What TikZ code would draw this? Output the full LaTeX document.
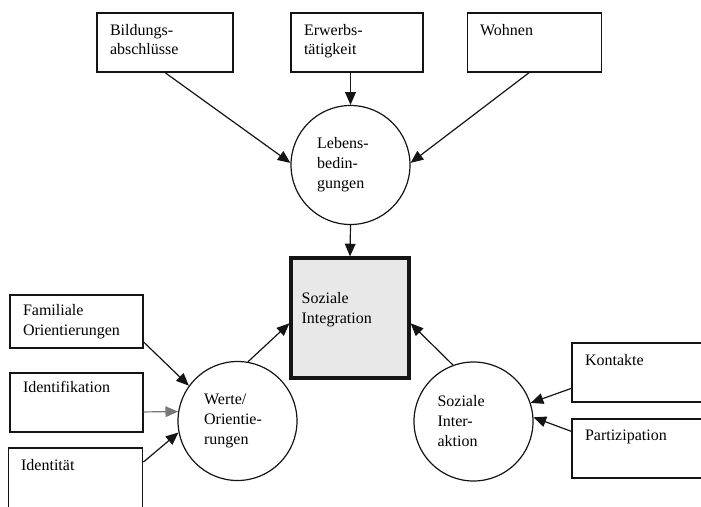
\documentclass[tikz,border=0pt]{standalone}
\usepackage{fontspec}
\setmainfont{Liberation Serif}
\usetikzlibrary{arrows.meta}
\definecolor{LineCol}{RGB}{20,20,20}
\definecolor{SqFill}{RGB}{232,232,232}
\definecolor{FadeCol}{RGB}{120,120,120}
\tikzset{
  sibox/.style={rectangle, draw=LineCol, line width=0.9pt, minimum width=101pt, minimum height=44.25pt, inner sep=0pt},
  silab/.style={font=\fontsize{12}{14.5}\selectfont, align=left, inner sep=0pt, anchor=north west, xshift=10pt, yshift=-8.5pt},
  sicirc/.style={circle, draw=LineCol, line width=0.9pt, minimum size=89.25pt, inner sep=0pt, align=left, font=\fontsize{12}{15}\selectfont},
  sisq/.style={rectangle, draw=LineCol, line width=2.4pt, fill=SqFill, minimum width=88.5pt, minimum height=90pt},
  siarr/.style={-{Triangle[length=9.5pt,width=8pt]}, line width=0.9pt, draw=LineCol}
}
\begin{document}
\begin{tikzpicture}[x=0.75pt,y=-0.75pt]
  \path[use as bounding box, clip] (0,0) rectangle (701,507);
  % obere Kaesten
  \node[sibox, minimum width=102pt, label={[silab]north west:{Bildungs-\\abschlüsse}}] (bild) at (165,42.5) {};
  \node[sibox, minimum width=99pt, label={[silab]north west:{Erwerbs-\\tätigkeit}}] (erw) at (357,42.5) {};
  \node[sibox, label={[silab]north west:Wohnen}] (wohn) at (534.5,42.5) {};
  % linke Kaesten
  \node[sibox, minimum width=99.75pt, minimum height=39.75pt, label={[silab, yshift=1pt]north west:{Familiale\\Orientierungen}}] (fam) at (76.5,321.5) {};
  \node[sibox, minimum width=99.75pt, label={[silab, yshift=2pt]north west:Identifikation}] (idf) at (76.5,402.5) {};
  \node[sibox, minimum height=46.5pt, label={[silab]north west:Identität}] (idt) at (75.5,479) {};
  % rechte Kaesten
  \node[sibox, minimum width=102pt, label={[silab]north west:Kontakte}] (kon) at (640,372.5) {};
  \node[sibox, minimum width=102pt, label={[silab]north west:Partizipation}] (par) at (640,448.5) {};
  % Kreise und Mitte
  \node[sicirc, text width=50pt] (leb) at (350.5,165) {Lebens-\\bedin-\\gungen};
  \node[sicirc, text width=50pt] (werte) at (237.5,421) {Werte/\\Orientie-\\rungen};
  \node[sicirc, text width=54pt] (soz) at (473.5,421.5) {Soziale\\Inter-\\aktion};
  \node[sisq, label={[anchor=west, inner sep=0pt, xshift=9pt, yshift=6pt, align=left, font=\fontsize{12}{15}\selectfont]west:{Soziale\\Integration}}] (sq) at (350,318) {};
  % Pfeile
  \draw[siarr] (bild.south) -- (leb.178);
  \draw[siarr] (erw.south -| leb.north) -- (leb.north);
  \draw[siarr] (wohn.-100) -- (leb.2);
  \draw[siarr] (leb.south) -- (sq.north);
  \draw[siarr] (werte.80) -- (sq.185);
  \draw[siarr] (soz.110) -- (sq.355);
  \draw[siarr] (fam.-17) -- (werte.144);
  \draw[siarr, draw=FadeCol] (idf.-8) -- (werte.171);
  \draw[siarr] (idt.14) -- (werte.191);
  \draw[siarr] (kon.193) -- (soz.18);
  \draw[siarr] (par.166) -- (soz.4);
\end{tikzpicture}
\end{document}
